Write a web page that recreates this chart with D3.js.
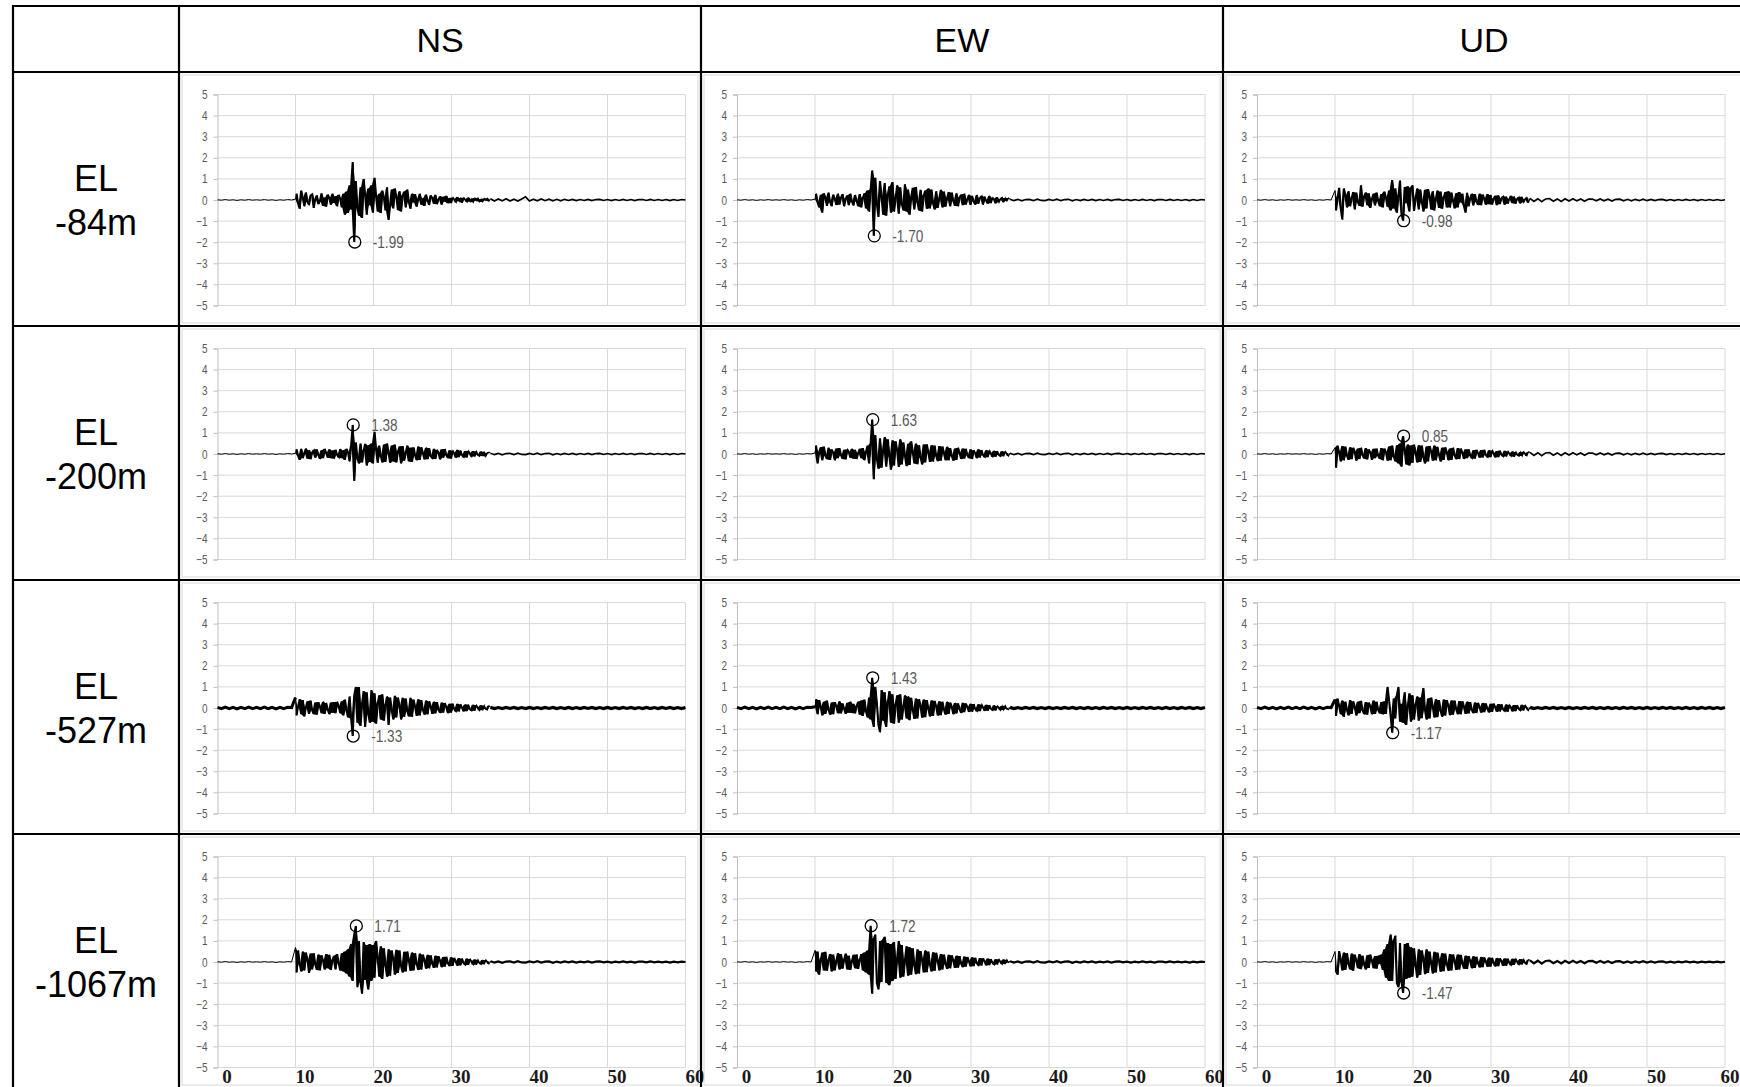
<!DOCTYPE html>
<html><head><meta charset="utf-8">
<script src="https://cdn.jsdelivr.net/npm/d3@7"></script>
<style>html,body{margin:0;padding:0;background:#fff;overflow:hidden}svg{display:block}</style>
</head><body>
<svg id="chart" width="1740" height="1087"></svg>
<script>
// ---------- data ----------
const components = ["NS", "EW", "UD"];
const rowLabels = [["EL", "-84m"], ["EL", "-200m"], ["EL", "-527m"], ["EL", "-1067m"]];
const yTicks = [5, 4, 3, 2, 1, 0, -1, -2, -3, -4, -5];
const xTicks = [0, 10, 20, 30, 40, 50, 60];
const xGrid = [10, 20, 30, 40, 50, 60];

// pre-event record, t = 0 .. 9.5 s every 0.5 s
const quietThin = [0.01,-0.01,0.02,-0.01,0.01,-0.02,0.01,-0.01,0.02,-0.01,0.01,-0.01,0.02,-0.01,0.01,-0.02,0.01,-0.01,0.02,0.00];
const quietThick = [0.03,-0.03,0.04,-0.03,0.03,-0.04,0.03,-0.03,0.04,-0.03,0.03,-0.03,0.04,-0.03,0.03,-0.04,0.03,-0.03,0.04,0.02];

// strong-motion part, t = 10.0 .. 34.8 s every 0.2 s (gal)
const ns84 = [0.04,0.30,-0.18,-0.42,0.45,0.10,-0.30,0.36,-0.08,-0.25,0.22,0.30,-0.38,0.05,0.22,-0.20,-0.05,0.32,-0.28,0.12,-0.32,0.26,0.08,-0.22,0.30,
 -0.14,0.18,-0.30,0.25,0.05,-0.35,0.30,-0.70,0.40,-0.62,0.70,-0.45,1.80,-1.99,0.90,-0.35,-0.75,0.60,-0.85,1.00,0.20,-0.70,0.55,-0.25,0.70,
 -0.60,1.05,0.15,-0.55,0.30,-0.62,0.45,0.10,-0.50,0.60,-0.95,-0.20,0.50,-0.40,0.55,0.12,-0.48,0.42,-0.55,0.20,0.40,-0.35,0.50,-0.10,-0.42,
 0.30,-0.12,0.28,-0.32,0.06,0.30,-0.22,0.10,-0.28,0.26,-0.05,-0.24,0.22,0.08,-0.18,0.25,-0.20,0.04,0.18,-0.22,0.15,-0.08,0.20,-0.15,0.10,
 -0.15,0.12,0.03,-0.12,0.14,-0.06,0.10,-0.13,0.11,0.02,-0.10,0.12,-0.08,0.06,-0.11,0.09,-0.03,0.10,-0.08,0.04,-0.09,0.07,-0.02,0.08,-0.06];
const ew84 = [0.04,0.30,-0.12,-0.35,0.25,-0.60,0.32,0.08,-0.28,0.35,-0.10,-0.30,0.26,0.05,-0.24,0.30,-0.22,0.12,0.28,-0.30,0.06,0.22,-0.25,0.30,-0.08,
 -0.26,0.24,-0.05,-0.30,0.28,-0.35,0.10,0.32,-0.40,0.45,-0.55,0.50,1.40,-1.70,1.05,-0.20,-0.80,0.90,0.15,-0.70,0.80,-0.75,0.25,0.65,-0.60,
 0.85,-0.55,0.10,0.70,-0.65,0.60,-0.20,-0.50,0.75,-0.55,0.50,-0.70,0.15,0.58,-0.45,0.62,-0.10,-0.50,0.48,-0.55,0.20,0.45,-0.42,0.55,-0.40,
 0.50,-0.15,-0.45,0.42,-0.38,0.08,0.48,-0.35,0.40,-0.32,0.10,0.38,-0.30,0.35,-0.05,-0.28,0.32,-0.30,0.12,0.26,-0.25,0.30,-0.22,0.05,0.25,
 -0.24,0.20,-0.06,-0.22,0.24,-0.18,0.10,0.20,-0.22,0.16,-0.04,-0.18,0.20,-0.15,0.12,0.05,-0.16,0.14,-0.12,0.03,0.12,-0.11,0.10,-0.05,0.09];
const ud84 = [0.45,-0.50,0.12,0.58,-0.40,-0.93,0.55,0.20,-0.35,0.42,-0.30,0.08,0.38,-0.45,0.35,-0.10,-0.28,0.70,-0.32,0.18,0.36,-0.25,0.32,-0.38,0.06,
 0.30,-0.26,0.35,-0.05,-0.30,0.28,-0.35,0.40,0.10,-0.32,0.45,-0.50,0.95,-0.40,0.55,-0.60,0.20,0.92,-0.70,-0.98,0.62,-0.15,0.65,-0.55,0.58,
 0.70,-0.52,0.08,0.55,-0.45,0.50,-0.10,-0.55,0.48,-0.40,0.52,0.15,-0.45,0.42,-0.50,0.06,0.45,-0.38,0.40,-0.42,0.12,0.38,-0.35,0.42,-0.36,
 0.35,-0.05,-0.40,0.32,-0.35,0.38,-0.12,0.30,-0.28,-0.60,0.34,-0.30,0.10,0.30,-0.26,0.28,-0.08,-0.24,0.30,-0.25,0.26,0.05,-0.22,0.28,-0.20,
 0.24,-0.22,0.06,0.20,-0.25,0.22,-0.20,0.08,0.18,-0.22,0.16,-0.18,0.04,0.20,-0.15,0.17,-0.18,0.05,0.14,-0.16,0.15,-0.12,0.02,0.12,-0.13];
const ns200 = [0.03,0.22,-0.10,-0.28,0.25,-0.20,0.05,0.26,-0.22,0.18,-0.25,0.08,0.20,-0.18,0.22,-0.06,-0.24,0.18,-0.20,0.25,0.04,-0.18,0.22,-0.20,0.16,
 -0.22,0.20,-0.05,-0.18,0.24,-0.20,0.18,-0.28,0.25,0.06,-0.35,0.40,1.38,-1.28,0.55,-0.20,-0.45,0.50,-0.40,0.15,0.48,-0.55,0.42,-0.38,0.50,
 -0.45,1.05,0.20,-0.42,0.40,-0.10,-0.40,0.45,-0.38,0.50,0.05,-0.42,0.40,-0.35,0.45,-0.40,0.12,0.36,-0.45,0.38,-0.32,0.06,0.40,-0.35,0.30,
 -0.38,0.32,-0.08,-0.30,0.35,-0.28,0.32,0.04,-0.26,0.30,-0.25,0.28,-0.10,-0.22,0.25,-0.24,0.20,0.05,-0.26,0.22,-0.18,0.24,-0.06,-0.20,0.18,
 -0.22,0.16,0.04,-0.18,0.20,-0.15,0.17,-0.05,-0.16,0.14,-0.17,0.15,0.03,-0.13,0.14,-0.12,0.13,-0.04,-0.11,0.12,-0.10,0.11,-0.12,0.03,0.09];
const ew200 = [0.05,0.40,-0.45,0.10,0.32,-0.30,0.35,-0.08,-0.25,0.30,-0.28,0.22,0.05,-0.30,0.26,-0.20,0.28,-0.06,-0.24,0.20,-0.26,0.22,0.10,-0.18,0.25,
 -0.22,0.20,-0.24,0.05,0.25,-0.20,0.28,-0.30,0.10,0.40,-0.45,0.50,1.63,-1.20,0.90,-0.25,-0.70,0.75,-0.65,0.20,0.80,-0.60,0.70,-0.10,-0.75,
 0.65,-0.55,0.60,0.15,-0.62,0.70,-0.50,0.55,-0.08,-0.58,0.48,-0.52,0.60,0.10,-0.45,0.50,-0.48,0.42,-0.15,-0.50,0.45,-0.40,0.46,0.05,-0.38,
 0.42,-0.36,0.40,-0.10,-0.34,0.38,-0.32,0.36,0.04,-0.30,0.34,-0.30,0.28,-0.08,-0.32,0.26,-0.28,0.30,0.05,-0.24,0.26,-0.22,0.25,-0.06,-0.20,
 0.22,-0.24,0.18,0.03,-0.20,0.22,-0.17,0.19,-0.05,-0.16,0.18,-0.15,0.16,0.02,-0.14,0.15,-0.13,0.14,-0.04,-0.12,0.13,-0.11,0.12,0.03,-0.10];
const ud200 = [0.30,-0.65,0.40,0.05,-0.35,0.38,-0.30,0.35,-0.08,-0.28,0.32,-0.25,0.30,0.10,-0.32,0.26,-0.24,0.30,-0.05,-0.22,0.28,-0.26,0.22,0.06,-0.28,
 0.25,-0.20,0.26,-0.10,-0.24,0.28,-0.30,0.26,0.08,-0.32,0.35,-0.30,0.40,-0.12,-0.35,0.42,-0.45,0.50,-0.60,0.85,0.20,-0.50,0.45,-0.55,0.40,
 -0.42,0.45,0.06,-0.40,0.42,-0.38,0.40,-0.15,-0.45,0.36,-0.35,0.38,0.10,-0.32,0.40,-0.30,0.34,-0.05,-0.36,0.30,-0.28,0.32,0.08,-0.30,0.26,
 -0.28,0.30,-0.06,-0.25,0.28,-0.24,0.26,0.05,-0.24,0.22,-0.20,0.22,-0.08,-0.21,0.18,-0.22,0.20,0.04,-0.18,0.19,-0.17,0.20,-0.05,-0.16,0.18,
 -0.15,0.17,0.03,-0.16,0.14,-0.15,0.16,-0.04,-0.13,0.15,-0.12,0.13,0.02,-0.11,0.12,-0.13,0.10,-0.03,-0.11,0.09,-0.10,0.11,0.02,-0.09,0.10];
const ns527 = [0.50,-0.35,0.10,0.42,-0.30,0.38,-0.40,0.05,0.32,-0.28,0.35,-0.12,-0.30,0.26,-0.32,0.28,0.06,-0.25,0.30,-0.28,0.24,-0.08,-0.30,0.26,-0.22,
 0.28,-0.25,0.30,0.08,-0.25,0.32,-0.35,0.40,-0.12,-0.45,0.55,-0.50,-1.33,0.60,1.00,-0.70,1.00,-0.85,0.20,0.80,-0.90,0.75,-0.30,-0.70,0.85,
 -0.65,0.70,-0.75,0.20,0.60,-0.55,0.65,-0.60,0.15,0.55,-0.80,0.50,-0.10,-0.55,0.58,-0.45,0.50,0.08,-0.55,0.48,-0.42,0.45,-0.15,-0.40,0.48,
 -0.42,0.40,0.05,-0.38,0.42,-0.35,0.38,-0.10,-0.32,0.35,-0.30,0.32,0.06,-0.28,0.30,-0.26,0.28,-0.08,-0.24,0.26,-0.22,0.24,0.04,-0.25,0.20,
 -0.22,0.21,-0.05,-0.18,0.20,-0.17,0.18,0.03,-0.16,0.17,-0.15,0.16,-0.06,-0.14,0.15,-0.13,0.14,0.02,-0.12,0.13,-0.11,0.12,-0.04,-0.10,0.11];
const ew527 = [0.06,0.42,-0.30,0.38,0.05,-0.35,0.30,-0.28,0.35,-0.10,-0.32,0.26,-0.30,0.28,0.08,-0.25,0.32,-0.26,0.22,-0.05,-0.28,0.25,-0.22,0.30,-0.24,
 0.20,-0.26,0.10,0.30,-0.32,0.35,-0.38,0.40,-0.15,-0.45,0.50,-0.55,1.43,-0.90,1.00,0.20,-0.80,-1.15,0.85,-0.60,0.75,-0.90,0.25,0.80,-0.70,
 0.65,-0.75,0.15,0.60,-0.70,0.65,-0.55,0.10,0.60,-0.50,0.55,-0.58,0.48,-0.08,-0.52,0.45,-0.50,0.42,0.10,-0.46,0.40,-0.44,0.38,-0.05,-0.40,
 0.36,-0.38,0.34,0.06,-0.36,0.32,-0.34,0.30,-0.08,-0.32,0.30,-0.28,0.26,0.05,-0.30,0.24,-0.26,0.22,-0.06,-0.24,0.25,-0.20,0.22,0.04,-0.19,
 0.20,-0.18,0.19,-0.05,-0.16,0.18,-0.15,0.17,0.03,-0.14,0.15,-0.13,0.14,-0.04,-0.12,0.13,-0.12,0.10,0.02,-0.11,0.10,-0.09,0.11,-0.03,-0.08];
const ud527 = [0.40,-0.38,0.45,0.08,-0.30,0.35,-0.42,0.30,-0.10,-0.35,0.38,-0.28,0.32,0.05,-0.36,0.30,-0.25,0.34,-0.12,-0.30,0.28,-0.32,0.26,0.06,-0.30,
 0.35,-0.28,0.30,-0.10,-0.26,0.28,-0.30,0.32,-0.28,1.00,0.35,-0.38,-1.17,0.45,-0.50,0.60,1.00,-0.65,0.20,-0.70,0.75,-0.80,0.10,0.70,-0.65,
 0.60,-0.55,0.15,0.55,-0.60,0.50,-0.48,0.95,-0.10,-0.55,0.45,-0.50,0.50,0.06,-0.45,0.42,-0.44,0.38,-0.12,-0.42,0.40,-0.36,0.38,0.08,-0.34,
 0.36,-0.32,0.35,-0.06,-0.30,0.33,-0.30,0.32,0.05,-0.28,0.30,-0.26,0.28,-0.10,-0.25,0.26,-0.24,0.25,0.04,-0.22,0.24,-0.20,0.22,-0.05,-0.21,
 0.20,-0.19,0.21,0.04,-0.18,0.19,-0.17,0.18,-0.06,-0.16,0.17,-0.18,0.15,0.03,-0.16,0.14,-0.15,0.14,-0.04,-0.13,0.15,-0.12,0.13,0.02,-0.12];
const ns1067 = [0.70,-0.50,0.55,-0.10,-0.45,0.50,-0.40,0.45,0.08,-0.52,0.40,-0.35,0.42,-0.12,-0.38,0.35,-0.40,0.32,0.05,-0.36,0.38,-0.30,0.34,-0.38,0.10,
 0.30,-0.35,0.38,-0.05,-0.40,0.42,-0.45,0.50,-0.55,0.60,-0.70,0.85,-0.90,1.30,1.71,-1.20,1.00,-0.95,-1.50,0.95,-0.85,0.80,-1.30,0.85,-0.90,
 0.80,-0.75,1.00,0.20,-0.70,0.75,-0.80,0.65,-0.15,-0.70,0.60,-0.65,0.55,0.10,-0.60,0.58,-0.52,0.55,-0.20,-0.50,0.48,-0.45,0.50,0.08,-0.42,
 0.45,-0.40,0.42,-0.10,-0.38,0.40,-0.36,0.35,0.06,-0.32,0.34,-0.30,0.32,-0.08,-0.28,0.30,-0.26,0.28,0.05,-0.25,0.24,-0.22,0.25,-0.06,-0.20,
 0.22,-0.19,0.20,0.04,-0.18,0.19,-0.16,0.17,-0.05,-0.15,0.16,-0.14,0.14,0.03,-0.13,0.12,-0.13,0.11,-0.04,-0.12,0.10,-0.11,0.10,0.02,-0.09];
const ew1067 = [0.55,-0.45,0.50,-0.60,0.08,0.45,-0.40,0.48,-0.42,0.10,0.38,-0.45,0.35,-0.40,0.06,0.42,-0.36,0.38,-0.32,0.12,0.40,-0.35,0.30,-0.38,0.05,
 0.34,-0.30,0.36,-0.33,0.10,0.38,-0.40,0.45,-0.50,0.55,-0.60,1.72,-1.50,1.10,1.30,-1.00,-1.30,1.00,-0.95,1.05,1.20,-1.00,0.90,-1.10,0.85,
 -0.90,0.95,-0.80,0.20,1.00,-0.75,0.80,-0.70,0.10,0.75,-0.65,0.70,-0.60,0.65,-0.15,-0.58,0.60,-0.55,0.52,0.08,-0.50,0.55,-0.48,0.50,-0.12,
 -0.45,0.46,-0.42,0.44,0.06,-0.40,0.38,-0.36,0.35,-0.10,-0.33,0.34,-0.30,0.32,0.05,-0.28,0.30,-0.27,0.28,-0.08,-0.25,0.26,-0.22,0.24,0.04,
 -0.21,0.22,-0.20,0.20,-0.05,-0.18,0.19,-0.17,0.18,0.03,-0.16,0.16,-0.15,0.14,-0.04,-0.14,0.13,-0.12,0.13,0.02,-0.11,0.12,-0.10,0.11,-0.03];
const ud1067 = [0.50,-0.45,-0.60,0.52,0.10,-0.40,0.45,-0.38,0.42,-0.08,-0.35,0.40,-0.42,0.35,0.05,-0.30,0.38,-0.34,0.30,-0.12,-0.36,0.32,-0.28,0.35,0.06,
 -0.30,0.28,-0.32,0.30,-0.10,0.35,-0.38,0.60,-0.75,0.85,-0.90,1.30,-0.90,1.00,1.25,-1.00,-1.20,0.90,-0.95,-1.47,0.85,-0.80,0.90,-0.75,0.70,
 -0.70,0.65,-0.15,-0.75,0.60,-0.62,0.55,0.10,-0.58,0.60,-0.52,0.50,-0.08,-0.55,0.48,-0.50,0.45,0.06,-0.46,0.42,-0.44,0.40,-0.10,-0.42,0.38,
 -0.40,0.36,0.05,-0.38,0.35,-0.36,0.34,-0.08,-0.32,0.30,-0.33,0.28,0.04,-0.30,0.27,-0.28,0.25,-0.06,-0.26,0.24,-0.25,0.22,0.03,-0.23,0.21,
 -0.22,0.20,-0.05,-0.21,0.19,-0.20,0.18,0.04,-0.19,0.17,-0.18,0.16,-0.03,-0.16,0.15,-0.14,0.15,0.02,-0.13,0.14,-0.12,0.13,-0.04,-0.12,0.11];

// late coda, t = 35.0 .. 60.0 s every 0.5 s
const tailNS84 = [0.06,-0.05,0.05,-0.04,0.06,-0.05,0.04,-0.05,0.05,0.15,-0.05,0.04,-0.04,0.05,-0.03,0.04,-0.04,0.03,-0.04,0.03,
 -0.02,0.03,-0.03,0.02,-0.02,0.03,-0.03,0.02,0.03,-0.02,0.02,-0.03,0.02,-0.02,0.03,-0.02,0.02,-0.03,0.02,0.02,-0.02,0.03,-0.02,0.02,-0.02,0.02,-0.03,0.02,-0.02,0.02,0.00];
const tailSmall = [0.04,-0.03,0.03,-0.04,0.02,0.03,-0.03,0.04,-0.02,-0.03,0.03,-0.02,0.04,-0.03,0.02,0.03,-0.04,0.02,-0.03,0.03,
 -0.02,0.03,-0.03,0.02,-0.02,0.03,-0.03,0.02,0.03,-0.02,0.02,-0.03,0.02,-0.02,0.03,-0.02,0.02,-0.03,0.02,0.02,-0.02,0.03,-0.02,0.02,-0.02,0.02,-0.03,0.02,-0.02,0.02,0.00];
const tailUD = [0.08,-0.07,0.06,-0.08,0.05,0.07,-0.06,0.05,-0.07,0.06,-0.05,0.06,-0.04,0.05,-0.06,0.04,0.05,-0.04,0.05,-0.04,
 0.04,-0.05,0.03,0.04,-0.04,0.03,-0.04,0.03,-0.03,0.04,-0.03,0.03,-0.03,0.02,0.03,-0.03,0.02,-0.03,0.02,-0.02,0.03,-0.02,0.02,-0.03,0.02,-0.02,0.02,-0.02,0.02,-0.02,0.01];
const tailThick = [0.03,-0.03,0.02,-0.03,0.03,-0.02,0.03,-0.03,0.02,-0.03,0.03,-0.03,0.02,-0.03,0.03,-0.02,0.03,-0.03,0.02,-0.03,
 0.03,-0.03,0.02,-0.03,0.03,-0.02,0.03,-0.03,0.02,-0.03,0.03,-0.03,0.02,-0.03,0.03,-0.02,0.03,-0.03,0.02,-0.03,0.03,-0.03,0.02,-0.03,0.03,-0.02,0.03,-0.03,0.02,-0.03,0.02];

const waves = [[ns84, ew84, ud84], [ns200, ew200, ud200], [ns527, ew527, ud527], [ns1067, ew1067, ud1067]];
const tails = [[tailNS84, tailSmall, tailUD], [tailSmall, tailSmall, tailUD], [tailThick, tailThick, tailThick], [tailSmall, tailSmall, tailUD]];
const quiets = [quietThin, quietThin, quietThick, quietThin];

// ---------- layout ----------
const svg = d3.select("#chart");
const colLines = [13, 179, 701, 1223, 1745];
const rowLines = [6, 72, 326, 580, 834, 1088];
const plotLeft = [217.5, 737, 1257];
const plotW = 468, plotH = 211, plotTop0 = 94.5, rowStep = 254;
const quietWidth = [1, 1, 3, 1];
const tailWidth = [1.6, 1.6, 3.2, 2.2];
const gridColor = "#d9d9d9";
const labelFont = "'Liberation Sans', Arial, sans-serif";

svg.append("rect").attr("width", 1740).attr("height", 1087).attr("fill", "#fff");

const x = d3.scaleLinear().domain([0, 60]).range([0, plotW]);

waves.forEach((row, r) => {
  row.forEach((act, c) => {
    const cx0 = colLines[c + 1], cx1 = colLines[c + 2];
    const ry0 = rowLines[r + 1], ry1 = rowLines[r + 2];
    svg.append("rect").attr("x", cx0 + 3).attr("y", ry0 + 3)
      .attr("width", cx1 - cx0 - 6).attr("height", ry1 - ry0 - 6)
      .attr("fill", "none").attr("stroke", gridColor).attr("stroke-width", 1);

    const top = plotTop0 + rowStep * r;
    const g = svg.append("g").attr("transform", `translate(${plotLeft[c]},${top})`);
    const y = d3.scaleLinear().domain([-5, 5]).range([plotH, 0]);

    g.selectAll("line.h").data(yTicks).join("line")
      .attr("x1", 0).attr("x2", plotW).attr("y1", d => y(d)).attr("y2", d => y(d))
      .attr("stroke", gridColor).attr("stroke-width", 1);
    g.selectAll("line.v").data(xGrid).join("line")
      .attr("x1", d => x(d)).attr("x2", d => x(d)).attr("y1", 0).attr("y2", plotH)
      .attr("stroke", gridColor).attr("stroke-width", 1);

    const ya = g.append("g").call(d3.axisLeft(y).tickValues(yTicks).tickSize(4).tickPadding(0).tickFormat(d3.format("d")));
    ya.select(".domain").attr("stroke", "#bfbfbf");
    ya.selectAll(".tick line").attr("stroke", "#bfbfbf");
    ya.selectAll(".tick text")
      .attr("fill", "#595959").attr("font-size", 12.5).attr("font-family", labelFont)
      .attr("x", -10 / 0.8).attr("transform", "scale(0.8,1)");

    const q = quiets[r], tl = tails[r][c];
    const qPts = q.map((v, i) => [i * 0.5, v]);
    const aPts = act.map((v, i) => [10 + i * 0.2, v]);
    const tPts = tl.map((v, i) => [35 + i * 0.5, v]);
    const line = d3.line().x(d => x(d[0])).y(d => y(d[1]));
    g.append("path").attr("d", line(qPts.concat([aPts[0]]))).attr("fill", "none")
      .attr("stroke", "#000").attr("stroke-width", quietWidth[r]);
    g.append("path").attr("d", line(tPts)).attr("fill", "none")
      .attr("stroke", "#000").attr("stroke-width", tailWidth[r]);
    // dense trace: min/max envelope of each pair of successive samples
    const seq = aPts.concat([tPts[0]]);
    const env = d3.pairs(seq).map(([p, n]) => [p[0], Math.min(p[1], n[1]), Math.max(p[1], n[1])]);
    const envArea = d3.area().x(d => x(d[0])).y0(d => y(d[1])).y1(d => y(d[2]));
    g.append("path").attr("d", envArea(env)).attr("fill", "#000");
    g.append("path").attr("d", line(seq)).attr("fill", "none")
      .attr("stroke", "#000").attr("stroke-width", 1.1).attr("stroke-linejoin", "miter").attr("stroke-miterlimit", 3);

    const iMax = d3.maxIndex(act, v => Math.abs(v));
    const pk = aPts[iMax];
    g.append("circle").attr("cx", x(pk[0])).attr("cy", y(pk[1])).attr("r", 6)
      .attr("fill", "none").attr("stroke", "#000").attr("stroke-width", 1.3);
    g.append("text")
      .attr("transform", `translate(${x(pk[0]) + 18},${y(pk[1])}) scale(0.8,1)`)
      .attr("dy", "0.35em").attr("fill", "#595959").attr("font-size", 17)
      .attr("font-family", labelFont).text(pk[1].toFixed(2));

    if (r === waves.length - 1) {
      const ox = plotLeft[c] + 9;
      const xa = svg.append("g").attr("transform", `translate(${ox},1069)`)
        .call(d3.axisBottom(x).tickValues(xTicks).tickSize(0).tickPadding(0).tickFormat(d3.format("d")));
      xa.select(".domain").remove();
      xa.selectAll(".tick text").attr("font-family", "'Liberation Serif', 'DejaVu Serif', serif")
        .attr("font-weight", "bold").attr("font-size", 19).attr("fill", "#1a1a1a").attr("dy", "0.71em")
        .each(function (d) {
          const w = this.getComputedTextLength();
          const cxText = ox + x(d);
          if (cxText + w / 2 > 1739) d3.select(this).attr("x", 1739 - w / 2 - cxText);
        });
    }
  });
});

svg.selectAll("line.rowline").data(rowLines).join("line")
  .attr("x1", colLines[0] - 1).attr("x2", colLines[colLines.length - 1]).attr("y1", d => d).attr("y2", d => d)
  .attr("stroke", "#000").attr("stroke-width", 2.2);
svg.selectAll("line.colline").data(colLines).join("line")
  .attr("x1", d => d).attr("x2", d => d).attr("y1", rowLines[0] - 1).attr("y2", rowLines[rowLines.length - 1])
  .attr("stroke", "#000").attr("stroke-width", 2.2);

components.forEach((name, c) => {
  svg.append("text").attr("x", (colLines[c + 1] + colLines[c + 2]) / 2).attr("y", 52)
    .attr("text-anchor", "middle").attr("font-family", labelFont).attr("font-size", 34)
    .attr("fill", "#000").text(name);
});
rowLabels.forEach((lab, r) => {
  const cy = (rowLines[r + 1] + rowLines[r + 2]) / 2;
  const t = svg.append("text").attr("text-anchor", "middle").attr("font-family", labelFont)
    .attr("font-size", 36).attr("fill", "#000");
  t.append("tspan").attr("x", (colLines[0] + colLines[1]) / 2).attr("y", cy - 8).text(lab[0]);
  t.append("tspan").attr("x", (colLines[0] + colLines[1]) / 2).attr("y", cy + 36).text(lab[1]);
});
</script>
</body></html>
